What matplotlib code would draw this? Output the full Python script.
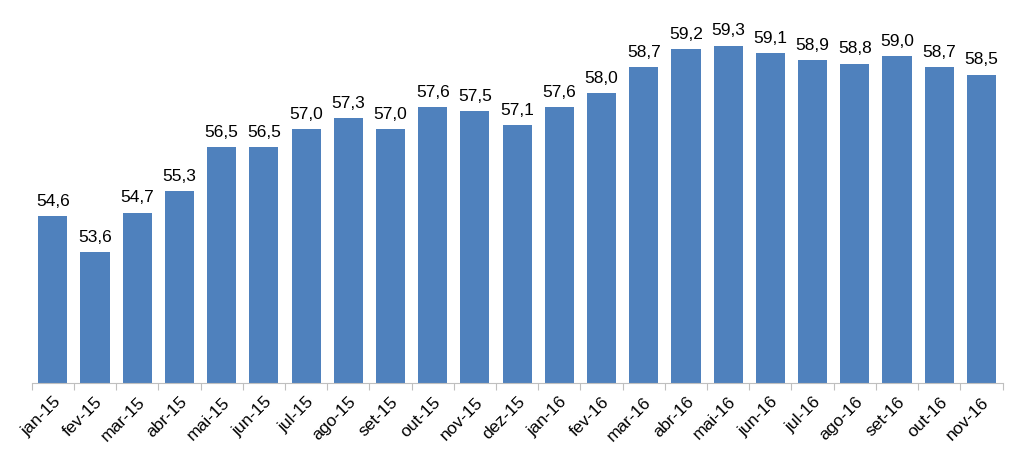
import matplotlib
matplotlib.use("Agg")
import matplotlib.pyplot as plt

months = ["jan-15", "fev-15", "mar-15", "abr-15", "mai-15", "jun-15", "jul-15", "ago-15",
          "set-15", "out-15", "nov-15", "dez-15", "jan-16", "fev-16", "mar-16", "abr-16",
          "mai-16", "jun-16", "jul-16", "ago-16", "set-16", "out-16", "nov-16"]
values = [54.6, 53.6, 54.7, 55.3, 56.5, 56.5, 57.0, 57.3, 57.0, 57.6, 57.5, 57.1,
          57.6, 58.0, 58.7, 59.2, 59.3, 59.1, 58.9, 58.8, 59.0, 58.7, 58.5]

plt.rcParams['font.family'] = ['Liberation Sans', 'DejaVu Sans']

fig = plt.figure(figsize=(10.23, 4.69), dpi=100)
ax = fig.add_axes([0.031, 0.183, 0.949, 0.774])

x = range(len(months))
ax.bar(x, values, width=0.69, color='#4f81bd')
for i, v in enumerate(values):
    ax.text(i, v + 0.2, ("%.1f" % v).replace(".", ","), ha='center', va='bottom', fontsize=12.5)

ax.set_ylim(50, 60)
ax.set_xlim(-0.5, len(months) - 0.5)
ax.set_yticks([])
for s in ['top', 'right', 'left']:
    ax.spines[s].set_visible(False)
ax.spines['bottom'].set_color('#bfbfbf')

# tick marks between categories, labels centered under bars
ax.set_xticks([i - 0.5 for i in range(len(months) + 1)])
ax.set_xticklabels([])
ax.set_xticks(list(x), minor=True)
ax.set_xticklabels(months, minor=True, rotation=45, ha='right', rotation_mode='anchor', fontsize=12.5)
ax.tick_params(axis='x', which='major', length=5, color='#bfbfbf')
ax.tick_params(axis='x', which='minor', length=0, pad=8)

fig.savefig("out.png", dpi=100)
